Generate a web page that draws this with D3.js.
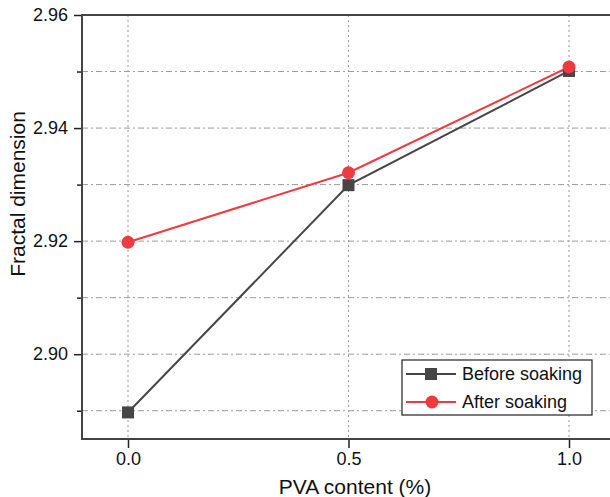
<!DOCTYPE html>
<html><head><meta charset="utf-8">
<script src="https://cdn.jsdelivr.net/npm/d3@7"></script>
<style>body{margin:0;background:#fff}svg{display:block}text{font-family:Arial,"Liberation Sans",sans-serif}</style>
</head><body><svg id="c" width="610" height="497"></svg>
<script>
const categories = [0.0, 0.5, 1.0];
const beforeSoaking = [2.8897, 2.9299, 2.9501];
const afterSoaking = [2.9198, 2.9321, 2.9508];
const yMajorTicks = [2.90, 2.92, 2.94, 2.96];
const yMinorTicks = [2.89, 2.91, 2.93, 2.95];
const xTicks = [0.0, 0.5, 1.0];
const seriesNames = ["Before soaking", "After soaking"];

const svg = d3.select("#c");
const L = 82, R = 640, T = 15, B = 439;
const x = d3.scaleLinear().domain([0, 1]).range([128, 569]);
const y = d3.scaleLinear().domain([2.885, 2.96]).range([B, T]);

// grid
const g = svg.append("g");
g.selectAll(".hg").data(yMajorTicks.concat(yMinorTicks).filter(v => v < 2.96)).enter().append("line")
  .attr("x1", L).attr("x2", R).attr("y1", d => y(d)).attr("y2", d => y(d))
  .attr("stroke", "#9a9a9a").attr("stroke-width", 1).attr("stroke-dasharray", "6,3,2,3");
g.selectAll(".vg").data(xTicks).enter().append("line")
  .attr("x1", d => x(d)).attr("x2", d => x(d)).attr("y1", T).attr("y2", B)
  .attr("stroke", "#9a9a9a").attr("stroke-width", 1).attr("stroke-dasharray", "2,3");

// axes
const yAxis = d3.axisLeft(y).tickValues(yMajorTicks).tickFormat(d3.format(".2f")).tickSize(8).tickPadding(6);
const ya = svg.append("g").attr("transform", `translate(${L},0)`).call(yAxis);
ya.select(".domain").remove();
ya.selectAll("line").attr("stroke", "#222").attr("stroke-width", 1.5);
ya.selectAll("text").attr("font-size", 18).attr("fill", "#111");
const yMinor = d3.axisLeft(y).tickValues(yMinorTicks).tickFormat("").tickSize(5);
const ym = svg.append("g").attr("transform", `translate(${L},0)`).call(yMinor);
ym.select(".domain").remove();
ym.selectAll("line").attr("stroke", "#222").attr("stroke-width", 1.5);

const xAxis = d3.axisBottom(x).tickValues(xTicks).tickFormat(d3.format(".1f")).tickSize(9).tickPadding(4);
const xa = svg.append("g").attr("transform", `translate(0,${B})`).call(xAxis);
xa.select(".domain").remove();
xa.selectAll("line").attr("stroke", "#222").attr("stroke-width", 1.5);
xa.selectAll("text").attr("font-size", 18).attr("fill", "#111");

svg.append("line").attr("x1", L).attr("x2", L).attr("y1", T - 1).attr("y2", B + 1).attr("stroke", "#444").attr("stroke-width", 2);
svg.append("line").attr("x1", L - 1).attr("x2", R).attr("y1", B).attr("y2", B).attr("stroke", "#444").attr("stroke-width", 2);
svg.append("line").attr("x1", L - 1).attr("x2", R).attr("y1", T).attr("y2", T).attr("stroke", "#444").attr("stroke-width", 2);

// lines
const colors = ["#464646", "#ef3b3f"];
const line = d3.line().x((d, i) => x(categories[i])).y(d => y(d));
svg.append("path").datum(beforeSoaking).attr("d", line).attr("fill", "none").attr("stroke", colors[0]).attr("stroke-width", 2);
svg.append("path").datum(afterSoaking).attr("d", line).attr("fill", "none").attr("stroke", colors[1]).attr("stroke-width", 2);
svg.selectAll(".sq").data(beforeSoaking).enter().append("rect")
  .attr("x", (d, i) => x(categories[i]) - 6).attr("y", d => y(d) - 6).attr("width", 12).attr("height", 12).attr("fill", colors[0]);
svg.selectAll(".ci").data(afterSoaking).enter().append("circle")
  .attr("cx", (d, i) => x(categories[i])).attr("cy", d => y(d)).attr("r", 6.5).attr("fill", colors[1]);

// legend
const lg = svg.append("g");
lg.append("rect").attr("x", 402).attr("y", 360).attr("width", 190).attr("height", 55).attr("fill", "#fff").attr("stroke", "#222").attr("stroke-width", 1.2);
seriesNames.forEach((n, i) => {
  const yy = 374 + i * 28;
  lg.append("line").attr("x1", 406).attr("x2", 456).attr("y1", yy).attr("y2", yy).attr("stroke", colors[i]).attr("stroke-width", 2);
  if (i === 0) lg.append("rect").attr("x", 425).attr("y", yy - 6).attr("width", 12).attr("height", 12).attr("fill", colors[0]);
  else lg.append("circle").attr("cx", 432).attr("cy", yy).attr("r", 6.5).attr("fill", colors[1]);
  lg.append("text").attr("x", 462).attr("y", yy).attr("dy", "0.35em").attr("font-size", 18).attr("fill", "#111").text(n);
});

// titles
svg.append("text").attr("x", 355).attr("y", 494).attr("text-anchor", "middle").attr("font-size", 21).attr("fill", "#111").text("PVA content (%)");
svg.append("text").attr("transform", "translate(25,194) rotate(-90)").attr("text-anchor", "middle").attr("font-size", 21).attr("fill", "#111").text("Fractal dimension");
</script></body></html>
